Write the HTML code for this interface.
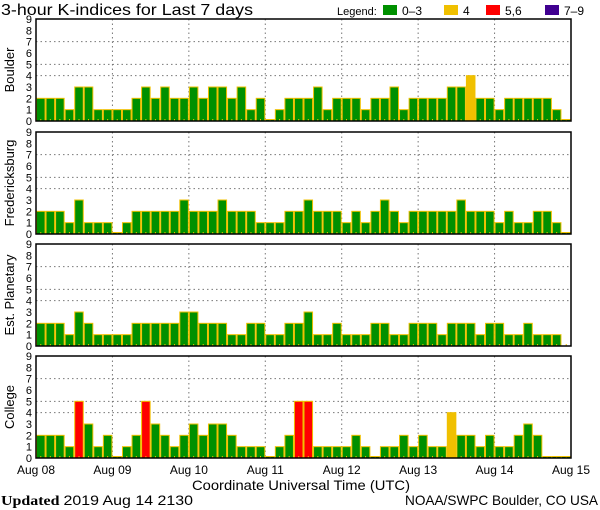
<!DOCTYPE html>
<html><head><meta charset="utf-8"><style>
body{margin:0;background:#fff;}
svg{display:block;font-family:"Liberation Sans",sans-serif;}
</style></head><body>
<svg id="c" width="600" height="510"></svg>
<script>
const days=["Aug 08","Aug 09","Aug 10","Aug 11","Aug 12","Aug 13","Aug 14","Aug 15"];
const stations=["Boulder","Fredericksburg","Est. Planetary","College"];
const boulder=[2,2,2,1,3,3,1,1,1,1,2,3,2,3,2,2,3,2,3,3,2,3,1,2,0,1,2,2,2,3,1,2,2,2,1,2,2,3,1,2,2,2,2,3,3,4,2,2,1,2,2,2,2,2,1,0];
const fredericksburg=[2,2,2,1,3,1,1,1,0,1,2,2,2,2,2,3,2,2,2,3,2,2,2,1,1,1,2,2,3,2,2,2,1,2,1,2,3,2,1,2,2,2,2,2,3,2,2,2,1,2,1,1,2,2,1,0];
const planetary=[2,2,2,1,3,2,1,1,1,1,2,2,2,2,2,3,3,2,2,2,1,1,2,2,1,1,2,2,3,1,1,2,1,1,1,2,2,1,1,2,2,2,1,2,2,2,1,2,2,1,1,2,1,1,1,null];
const college=[2,2,2,1,5,3,1,2,0,1,2,5,3,2,1,2,3,2,3,3,2,1,1,1,0,1,2,5,5,1,1,1,1,2,1,0,1,1,2,1,2,1,1,4,2,2,1,2,1,1,2,3,2,0,0,0];
const yTicks=[0,1,2,3,4,5,6,7,8,9];
const series=[boulder,fredericksburg,planetary,college];
const legendLabels=["0–3","4","5,6","7–9"];
const legendColors=["#009000","#f0c000","#ff0000","#400090"];

const svg=document.getElementById('c');
const NS="http://www.w3.org/2000/svg";
function mk(t,a,p){const e=document.createElementNS(NS,t);for(const k in a)e.setAttribute(k,a[k]);(p||svg).appendChild(e);return e;}
const L=36,R=571,N=56,bw=(R-L)/N;
const tops=[19,132,244,356],H=102;
function color(v){return v>=7?legendColors[3]:v>=5?legendColors[2]:v==4?legendColors[1]:legendColors[0];}

let t=mk('text',{x:1,y:15,'font-size':16,textLength:252,lengthAdjust:'spacingAndGlyphs'});t.textContent="3-hour K-indices for Last 7 days";

t=mk('text',{x:337,y:15,'font-size':11});t.textContent="Legend:";

const lx=[383,444,486,545];
legendLabels.forEach((lab,i)=>{
  const g=mk('g',{});
  
  
  mk('rect',{x:lx[i],y:5,width:14,height:10,fill:legendColors[i]},g);
  const tt=mk('text',{x:lx[i]+19,y:15,'font-size':12},g);tt.textContent=lab;
});

series.forEach((data,s)=>{
  const top=tops[s],bot=top+H;
  const y=v=>bot-v*(H/9);
  const x=i=>L+i*bw;
  const g=mk('g',{});
  
  
  [4,5,7].forEach(v=>mk('line',{x1:L,x2:R,y1:y(v),y2:y(v),stroke:'#777','stroke-dasharray':'1.5,3'},g));
  for(let d=1;d<7;d++)mk('line',{x1:x(d*8),x2:x(d*8),y1:top,y2:bot,stroke:'#777','stroke-dasharray':'1.5,3'},g);
  data.forEach((v,i)=>{
    if(v===null)return;
    const h=Math.max(v*(H/9),1.5);
    const r=mk('rect',{x:x(i)+0.5,y:bot-h,width:bw-1,height:h,fill:color(v),stroke:'#f0c000','stroke-width':1},g);
    
    
  });
  for(let i=0;i<N;i++)mk('line',{x1:x(i)+bw/2,x2:x(i)+bw/2,y1:bot-2,y2:bot,stroke:'#f0c000'},g);
  mk('rect',{x:L,y:top,width:R-L,height:H,fill:'none',stroke:'#000','stroke-width':1.5},g);
  yTicks.forEach(v=>{const tt=mk('text',{x:32,y:y(v)+4,'font-size':11,'text-anchor':'end'},g);tt.textContent=v;});
  const yt=mk('text',{x:0,y:0,'font-size':13,'text-anchor':'middle',transform:`translate(14,${top+H/2}) rotate(-90)`},g);
  yt.textContent=stations[s];
  
  
});
days.forEach((d,i)=>{
  const tt=mk('text',{x:L+i*8*bw,y:474,'font-size':12,'text-anchor':'middle'});tt.textContent=d;
  
  
});
t=mk('text',{x:192,y:490,'font-size':14,textLength:218,lengthAdjust:'spacingAndGlyphs'});t.textContent="Coordinate Universal Time (UTC)";

t=mk('text',{x:1,y:505,'font-size':14,'font-family':'Liberation Serif',textLength:192,lengthAdjust:'spacingAndGlyphs'});
t.innerHTML='<tspan font-weight="bold">Updated</tspan> <tspan font-family="Liberation Sans">2019 Aug 14 2130</tspan>';

t=mk('text',{x:405,y:505,'font-size':14,textLength:193,lengthAdjust:'spacingAndGlyphs'});t.textContent="NOAA/SWPC Boulder, CO USA";

</script>
</body></html>
